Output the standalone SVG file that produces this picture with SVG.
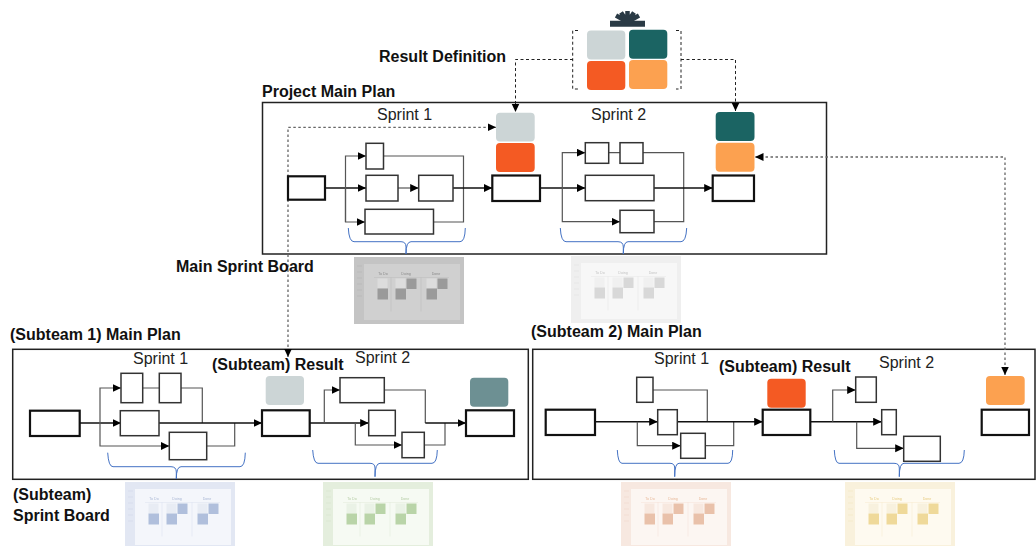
<svg xmlns="http://www.w3.org/2000/svg" xmlns:xlink="http://www.w3.org/1999/xlink" width="1036" height="546" viewBox="0 0 1036 546">
<style>
text{font-family:"Liberation Sans",Arial,sans-serif;fill:#111}
.b{font-weight:bold;font-size:16px;fill:#111}
.s{font-size:16px;fill:#222}
.frame{fill:none;stroke:#222;stroke-width:1.5}
.n{fill:#fff;stroke:#333;stroke-width:1.5}
.m{fill:#fff;stroke:#111;stroke-width:2.2}
.l{fill:none;stroke:#555;stroke-width:1.2}
.k{fill:none;stroke:#111;stroke-width:1.5}
.bl{fill:none;stroke:#4472c4;stroke-width:1}
.dk{fill:none;stroke:#222;stroke-width:1;stroke-dasharray:3 2.5}
.dg{fill:none;stroke:#666;stroke-width:1.3;stroke-dasharray:2.5 2.5}
.a{marker-end:url(#ah)}
.aa{marker-start:url(#ah);marker-end:url(#ah)}
.t{stroke:none}
.c1{fill:#ccd5d6}.c2{fill:#1b6463}.c3{fill:#f45a23}.c4{fill:#fca150}.c5{fill:#6d9093}
.o{fill:var(--o)}.i{fill:var(--i)}.li{fill:var(--l)}.d{fill:var(--d)}
.bt{font-size:3.6px;fill:var(--x);text-anchor:middle;font-family:"Liberation Sans",Arial,sans-serif}
.ln{stroke:var(--x);stroke-width:.5;fill:none;opacity:.3}
</style>
<defs>
<marker id="ah" markerUnits="userSpaceOnUse" markerWidth="10" markerHeight="9" refX="8.5" refY="4" orient="auto-start-reverse"><path d="M0 0L8.5 4L0 8Z" fill="#000"/></marker>
<filter id="soft" x="-5%" y="-5%" width="110%" height="110%"><feGaussianBlur stdDeviation="0.6"/></filter>
<g id="board" filter="url(#soft)">
<rect class="o" width="110" height="67"/>
<rect class="i" x="10" y="7" width="96" height="56"/>
<path class="ln" d="M3 9h5M3 15h5M3 21h5M3 27h5M3 33h5M3 39h5M20 20.5h75M37 20.5v34M67 20.5v34"/>
<text class="bt" x="29" y="18">To Do</text><text class="bt" x="52" y="18">Doing</text><text class="bt" x="82" y="18">Done</text>
<rect class="li" x="23.5" y="21.5" width="10" height="10"/><rect class="d" x="23.5" y="31.5" width="10.5" height="11"/>
<rect class="li" x="41.5" y="21.5" width="10" height="10"/><rect class="d" x="52.5" y="21.5" width="10" height="10.5"/><rect class="d" x="41.5" y="31.5" width="10.5" height="11"/>
<rect class="li" x="72.5" y="21.5" width="10" height="10"/><rect class="d" x="83.5" y="21.5" width="10" height="10.5"/><rect class="d" x="72.5" y="31.5" width="10.5" height="11"/>
</g>
</defs>

<g id="frames">
<rect class="frame" x="262.5" y="102.5" width="564" height="151.5"/>
<rect class="frame" x="12.7" y="349.3" width="515.6" height="130"/>
<rect class="frame" x="532.7" y="349.3" width="502.3" height="130"/>
</g>

<g id="connectors">
<path class="dk a" d="M573 59.5H515.5V112"/>
<path class="dk a" d="M681 59.5H735.5V111"/>
<path class="dg aa" d="M288 357V127.3H496"/>
<path class="dg aa" d="M1005 375V157H755"/>

<path class="k a" d="M325 188H366"/>
<path class="l a" d="M345.5 222V156H366"/>
<path class="l a" d="M345.5 188V222H365"/>
<path class="l a" d="M398 188H418.7"/>
<path class="l" d="M383.5 156H463.5V222H433.5"/>
<path class="k a" d="M453 188H492.3"/>
<path class="k" d="M540 188H585"/>
<path class="l a" d="M562.3 188V152.7H585.3"/>
<path class="l a" d="M562.3 188H585.3"/>
<path class="l a" d="M562.3 188V221.7H620"/>
<path class="l" d="M608 152.7H620M643 152.7H683.7V221.7H654"/>
<path class="k a" d="M654 188H712.7"/>

<path class="k a" d="M80 423H121"/>
<path class="l a" d="M100 423V388H121"/>
<path class="l a" d="M100 423V446H169.3"/>
<path class="l" d="M143 388H159.3M181 388H202.3V423M206.7 446H234.7V423"/>
<path class="k a" d="M159 423H262"/>
<path class="k a" d="M309.7 423H368.7"/>
<path class="l a" d="M324.3 423V390H340"/>
<path class="l a" d="M355.3 423V445H402"/>
<path class="l" d="M384.3 390H425.3V423M424.3 445H445V423"/>
<path class="k a" d="M425.3 423H466"/>

<path class="k a" d="M595 421.7H657.7"/>
<path class="l a" d="M637.3 421.7V445.7H680.7"/>
<path class="l" d="M653 390H707.3V421.7M705 445.7H733.7V421.7"/>
<path class="k a" d="M677 421.7H762.7"/>
<path class="k a" d="M810 421.7H881.7"/>
<path class="l a" d="M832.7 421.7V390H855.7"/>
<path class="l a" d="M856.7 421.7V448.3H903.7"/>

<path class="bl" d="M348.3 228Q349 241.7 354 241.7H401Q406 241.7 406 247V254Q406 241.7 411 241.7H460Q465 241.7 465.3 228"/>
<path class="bl" d="M560.3 228Q561 241.7 566 241.7H618Q623.3 241.7 623.3 247V254Q623.3 241.7 628 241.7H681Q686 241.7 686.7 228"/>
<path class="bl" d="M107.7 452.7Q108.5 466.7 113 466.7H171Q176.3 466.7 176.3 472V479Q176.3 466.7 181 466.7H240Q245 466.7 245.3 452.7"/>
<path class="bl" d="M312.7 450Q313.5 463.3 318 463.3H370Q375 463.3 375 468V476.7Q375 463.3 380 463.3H432Q437 463.3 437.3 450"/>
<path class="bl" d="M617.3 450Q618 463.3 622 463.3H670Q674.7 463.3 674.7 468V476.7Q674.7 463.3 679 463.3H728Q732.5 463.3 732.7 450"/>
<path class="bl" d="M834.3 450Q835 463.3 839 463.3H894Q899.3 463.3 899.3 468V476.7Q899.3 463.3 904 463.3H959Q964 463.3 964.3 450"/>
</g>

<g id="result-definition">
<path d="M610 20.7H645V26.7H610Z" fill="#2a3a45"/>
<path d="M627.5 22V11M627.5 22L621 12.5M627.5 22L634 12.5M627.5 22L616 15.5M627.5 22L639 15.5" stroke="#2a3a45" stroke-width="4.5" fill="none"/>
<path class="dk" d="M578 30.5H572.7V89H578M676 30.5H681V89H676"/>
<rect class="t c1" x="587" y="30.5" width="38.3" height="29" rx="4"/>
<rect class="t c2" x="629" y="29.7" width="38.3" height="29" rx="4"/>
<rect class="t c3" x="587" y="61" width="38.3" height="29" rx="4"/>
<rect class="t c4" x="629" y="60" width="38.3" height="29" rx="4"/>
</g>

<g id="main-plan-nodes">
<rect class="m" x="288" y="176.3" width="37" height="23.4"/>
<rect class="n" x="366" y="143.3" width="17.5" height="25.7"/>
<rect class="n" x="366" y="175.3" width="32" height="25.7"/>
<rect class="n" x="418.7" y="175.3" width="34.3" height="25.7"/>
<rect class="n" x="365" y="209.3" width="68.5" height="24.7"/>
<rect class="m" x="492.3" y="175.5" width="47.7" height="25.5"/>
<rect class="n" x="585.3" y="142.7" width="23.4" height="20.6"/>
<rect class="n" x="620" y="142.7" width="23" height="20.6"/>
<rect class="n" x="585.3" y="175.3" width="68.7" height="25.4"/>
<rect class="n" x="620" y="210.3" width="34" height="22.4"/>
<rect class="m" x="712.7" y="175.5" width="41.3" height="25.5"/>
<rect class="t c1" x="496" y="112.7" width="38.7" height="28.8" rx="4"/>
<rect class="t c3" x="496" y="143" width="38.7" height="29" rx="4"/>
<rect class="t c2" x="715.7" y="112" width="38.8" height="29" rx="4"/>
<rect class="t c4" x="715.7" y="142.7" width="38.8" height="29" rx="4"/>
</g>

<g id="subteam1-nodes">
<rect class="m" x="30" y="410.7" width="49.7" height="25.3"/>
<rect class="n" x="121" y="373.3" width="21.7" height="29.4"/>
<rect class="n" x="159.3" y="373.3" width="21.7" height="29.4"/>
<rect class="n" x="120.3" y="410.7" width="38.7" height="25"/>
<rect class="n" x="169.3" y="432.3" width="37.4" height="27.4"/>
<rect class="m" x="262" y="410.3" width="47.7" height="25.7"/>
<rect class="n" x="340" y="377.7" width="44.3" height="25"/>
<rect class="n" x="368.7" y="410.3" width="26.6" height="25.4"/>
<rect class="n" x="402" y="432.3" width="22.3" height="25.4"/>
<rect class="m" x="466" y="410.3" width="48" height="25.7"/>
<rect class="t c1" x="265.7" y="376" width="38.3" height="29" rx="4"/>
<rect class="t c5" x="470" y="377.7" width="38.3" height="29" rx="4"/>
</g>

<g id="subteam2-nodes">
<rect class="m" x="545.7" y="409.7" width="49.3" height="25.3"/>
<rect class="n" x="636.7" y="377.3" width="16.3" height="25"/>
<rect class="n" x="657.7" y="409.7" width="19.6" height="25"/>
<rect class="n" x="680.7" y="433.3" width="24.6" height="25"/>
<rect class="m" x="762.7" y="409.7" width="47.6" height="25.3"/>
<rect class="n" x="855.7" y="377" width="20.6" height="25.3"/>
<rect class="n" x="881.7" y="409.7" width="14.6" height="25"/>
<rect class="n" x="903.7" y="436.3" width="36.6" height="25"/>
<rect class="m" x="981.7" y="409.7" width="47.3" height="25.3"/>
<rect class="t c3" x="767.3" y="378.7" width="38.4" height="29" rx="4"/>
<rect class="t c4" x="986" y="376" width="38.7" height="29" rx="4"/>
</g>

<g id="sprint-boards">
<use xlink:href="#board" href="#board" x="354" y="257" style="--o:#c4c4c4;--i:#d0d0d0;--l:#dcdcdc;--d:#9a9a9a;--x:#8a8a8a"/>
<use xlink:href="#board" href="#board" x="571" y="256" style="--o:#efefef;--i:#f7f7f7;--l:#f0f0f0;--d:#d8d8d8;--x:#c4c4c4"/>
<use xlink:href="#board" href="#board" x="125" y="482" style="--o:#e2e7f3;--i:#f4f6fb;--l:#e8ecf4;--d:#b0bfdc;--x:#a8b6d4"/>
<use xlink:href="#board" href="#board" x="323" y="482" style="--o:#e4eedd;--i:#f6faf3;--l:#eaf2e6;--d:#b9d4a8;--x:#b4cca4"/>
<use xlink:href="#board" href="#board" x="621" y="482" style="--o:#f7e8e0;--i:#fcf6f2;--l:#f7e8df;--d:#e9c1aa;--x:#e8b898"/>
<use xlink:href="#board" href="#board" x="845" y="482" style="--o:#f9f1dc;--i:#fefaf0;--l:#f8f1de;--d:#efd99a;--x:#e8cc80"/>
</g>

<g id="labels">
<text class="b" x="379" y="62">Result Definition</text>
<text class="b" x="262" y="97">Project Main Plan</text>
<text class="b" x="176" y="272">Main Sprint Board</text>
<text class="b" x="10" y="340">(Subteam 1) Main Plan</text>
<text class="b" x="531" y="337">(Subteam 2) Main Plan</text>
<text class="b" x="212" y="370">(Subteam) Result</text>
<text class="b" x="719" y="372">(Subteam) Result</text>
<text class="b" x="13" y="500">(Subteam)</text>
<text class="b" x="13" y="521">Sprint Board</text>
<text class="s" x="377" y="120">Sprint 1</text>
<text class="s" x="591" y="120">Sprint 2</text>
<text class="s" x="133" y="364">Sprint 1</text>
<text class="s" x="355" y="363">Sprint 2</text>
<text class="s" x="654" y="364">Sprint 1</text>
<text class="s" x="879" y="368">Sprint 2</text>
</g>
</svg>
